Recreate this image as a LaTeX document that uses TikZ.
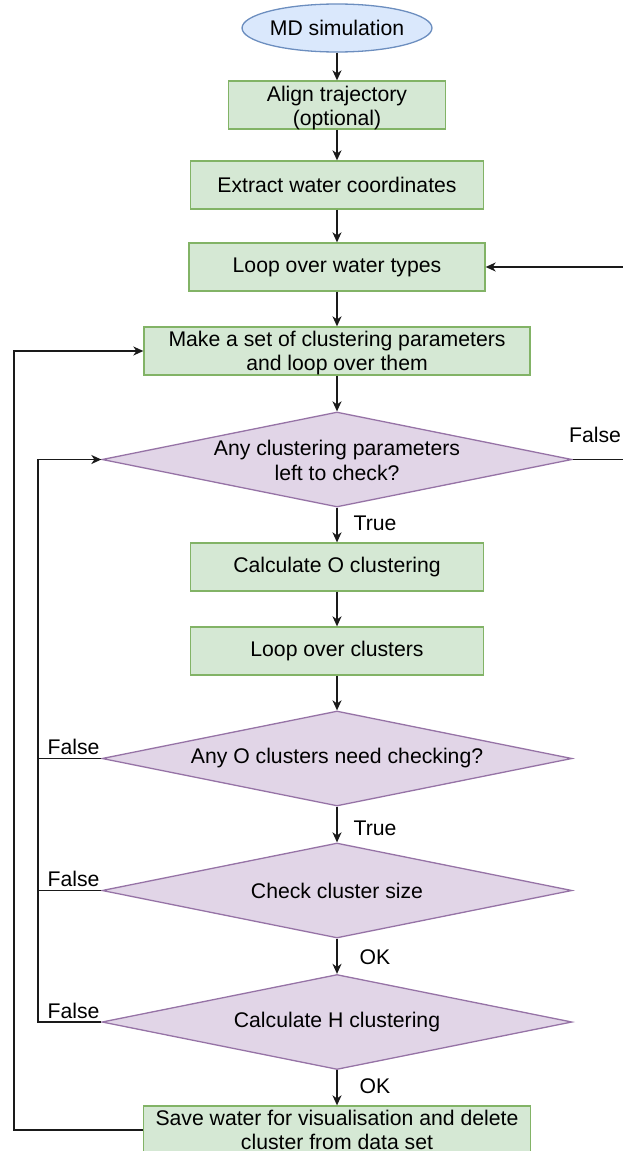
\documentclass[tikz,border=0pt]{standalone}
\usepackage{fontspec}
\setmainfont{Liberation Sans}
\usetikzlibrary{shapes.geometric,arrows.meta}
\definecolor{gFill}{HTML}{D5E8D4}
\definecolor{gDraw}{HTML}{82B366}
\definecolor{pFill}{HTML}{E1D5E7}
\definecolor{pDraw}{HTML}{9673A6}
\definecolor{bFill}{HTML}{DAE8FC}
\definecolor{bDraw}{HTML}{6C8EBF}
\definecolor{lineC}{HTML}{1A1A1A}
\begin{document}
\begin{tikzpicture}[x=1pt,y=-1pt,
  font=\fontsize{21.2}{24.6}\selectfont,
  box/.style={rectangle, draw=gDraw, fill=gFill, line width=1.3pt, inner sep=0pt, minimum height=48pt, align=center},
  startnode/.style={ellipse, draw=bDraw, fill=bFill, line width=1.3pt, inner sep=0pt, minimum width=176pt, minimum height=48pt},
  dia/.style={diamond, draw=pDraw, fill=pFill, line width=1.3pt, inner sep=0pt, aspect=4.95, minimum width=470pt, minimum height=95pt},
  dtxt/.style={align=center, inner sep=0pt},
  lbl/.style={anchor=base, inner sep=0pt},
  conn/.style={draw=lineC, line width=1.4pt},
  arr/.style={conn, -{Stealth[length=10pt,width=9pt,inset=3pt]}}
]
\useasboundingbox (0,0) rectangle (623,1151);
\clip (0,0) rectangle (623,1151);

\node[startnode] (md) at (337,28) {MD simulation};
\node[box, minimum width=217pt] (align) at (337,105) {};
\node[dtxt] (alignt) at (337,108) {Align trajectory\\(optional)};
\node[box, minimum width=293pt] (extract) at (337,185) {Extract water coordinates};
\node[box, minimum width=296pt] (loopt) at (337,267) {Loop over water types};
\node[box, minimum width=386pt] (make) at (337,351) {};
\node[dtxt] (maket) at (337,353) {Make a set of clustering parameters\\and loop over them};
\node[dia] (d1) at (337,459.5) {};
\node[dtxt] (d1t) at (337,460.5) {Any clustering parameters\\left to check?};
\node[box, minimum width=293pt] (calco) at (337,567) {Calculate O clustering};
\node[box, minimum width=293pt] (loopc) at (337,651) {Loop over clusters};
\node[dia] (d2) at (337,758.5) {};
\node[dtxt] (d2t) at (337,758.5) {Any O clusters need checking?};
\node[dia] (d3) at (337,890.5) {};
\node[dtxt] (d3t) at (337,890.5) {Check cluster size};
\node[dia] (d4) at (337,1022) {};
\node[dtxt] (d4t) at (337,1022) {Calculate H clustering};
\node[box, minimum width=387pt] (save) at (337,1130) {Save water for visualisation and delete\\cluster from data set};

\coordinate (inner) at (38,0);
\coordinate (outer) at (14,0);
\coordinate (farright) at (660,0);

% main column
\draw[arr] (md) -- (align);
\draw[arr] (align) -- (extract);
\draw[arr] (extract) -- (loopt);
\draw[arr] (loopt) -- (make);
\draw[arr] (make) -- (d1);
\draw[arr] (d1) -- (calco);
\draw[arr] (calco) -- (loopc);
\draw[arr] (loopc) -- (d2);
\draw[arr] (d2) -- (d3);
\draw[arr] (d3) -- (d4);
\draw[arr] (d4) -- (save);

% inner loop (False branches)
\draw[conn] (d2.west) -- (d2.west -| inner);
\draw[conn] (d3.west) -- (d3.west -| inner);
\draw[arr] (d4.west) -- (d4.west -| inner) |- (d1.west);

% outer loop
\draw[arr] (save.west) -- (save.west -| outer) |- (make.west);

% right loop (False from d1 back to water types)
\draw[arr] (d1.east) -- (d1.east -| farright) |- (loopt.east);

% labels
\node[lbl] (f1) at (595,442) {False};
\node[lbl] (t1) at (375,530) {True};
\node[lbl] (f2) at (73.5,754) {False};
\node[lbl] (t2) at (375,835) {True};
\node[lbl] (f3) at (73.5,886) {False};
\node[lbl] (ok1) at (375,964) {OK};
\node[lbl] (f4) at (73.5,1018) {False};
\node[lbl] (ok2) at (375,1093) {OK};
\end{tikzpicture}
\end{document}
